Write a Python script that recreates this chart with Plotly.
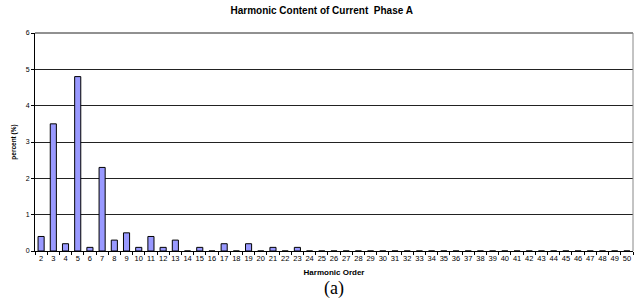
import plotly.graph_objects as go

harmonics = [str(h) for h in range(2, 51)]
percent = [0.4, 3.5, 0.2, 4.8, 0.1, 2.3, 0.3, 0.5, 0.1, 0.4, 0.1, 0.3, 0.0, 0.1, 0.0,
           0.2, 0.0, 0.2, 0.0, 0.1, 0.0, 0.1] + [0.0] * 27
y_ticks = [0, 1, 2, 3, 4, 5, 6]

fig = go.Figure(go.Bar(
    x=harmonics, y=percent,
    marker=dict(color="#9999FF", line=dict(color="black", width=1)),
))

fig.update_layout(
    width=637, height=299,
    margin=dict(l=35, r=4, t=33, b=48),
    paper_bgcolor="white", plot_bgcolor="white",
    bargap=0.5,
    showlegend=False,
    font=dict(family="Arial, Liberation Sans", size=7, color="black"),
    title=dict(text="<b>Harmonic Content of Current&nbsp; Phase A</b>",
               x=0.505, xanchor="center", y=0.966, yanchor="middle",
               font=dict(size=10, family="Arial, Liberation Sans")),
)
fig.update_xaxes(
    type="category", showline=True, linecolor="black", linewidth=1,
    ticks="outside", tickson="boundaries", ticklen=3, tickcolor="black",
    tickfont=dict(size=7.5), tickangle=0, mirror=False,
    title=dict(text="<b>Harmonic Order</b>", font=dict(size=8), standoff=7),
)
fig.update_yaxes(
    range=[0, 6], tickvals=y_ticks, showline=True, linecolor="black", linewidth=1,
    ticks="outside", ticklen=3, tickcolor="black",
    showgrid=True, gridcolor="#222222", gridwidth=1, zeroline=False,
    tickfont=dict(size=7),
    title=dict(text="<b>percent (%)</b>", font=dict(size=6.5), standoff=8),
)
fig.add_shape(type="line", xref="paper", yref="paper", x0=0, x1=1, y0=1, y1=1,
              line=dict(color="#222222", width=1))
fig.add_shape(type="line", xref="paper", yref="paper", x0=1, x1=1, y0=0, y1=1,
              line=dict(color="#888888", width=1))
fig.add_annotation(text="(a)", xref="paper", yref="paper", x=0.5, y=-0.17,
                   xanchor="center", yanchor="middle", showarrow=False,
                   font=dict(family="Liberation Serif, Times New Roman", size=18))
fig.write_html("out.html", config={"displayModeBar": False},
               post_script="document.body.style.margin='0';")
